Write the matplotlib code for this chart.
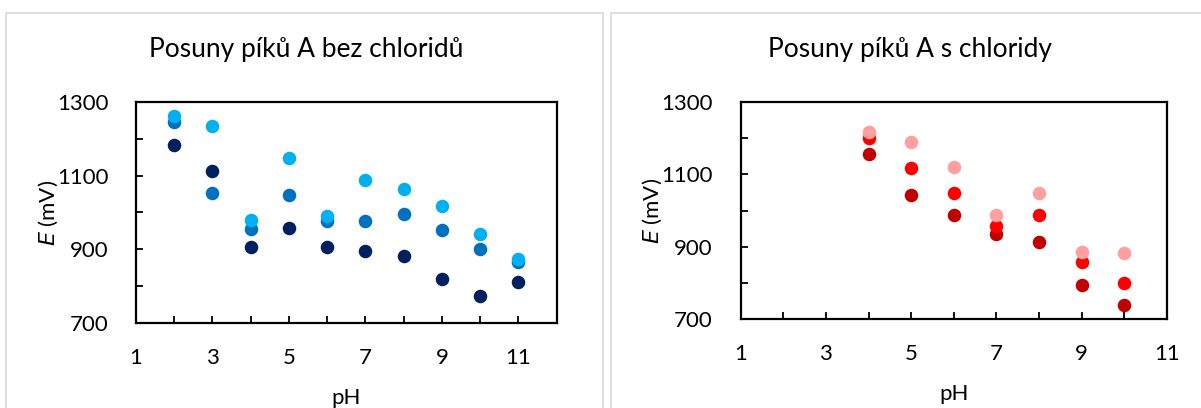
import matplotlib
matplotlib.use("Agg")
import matplotlib.pyplot as plt
from matplotlib.patches import Rectangle

# pH values
ph_left = [2, 3, 4, 5, 6, 7, 8, 9, 10, 11]
ph_right = [4, 5, 6, 7, 8, 9, 10]

# peak A shifts without chlorides (mV)
left_dark = [1184, 1112, 907, 957, 907, 895, 882, 820, 775, 811]
left_mid = [1244, 1053, 955, 1047, 976, 978, 997, 952, 901, 865]
left_light = [1261, 1235, 981, 1148, 990, 1089, 1063, 1018, 943, 873]

# peak A shifts with chlorides (mV)
right_dark = [1155, 1043, 988, 935, 912, 795, 740]
right_mid = [1199, 1118, 1048, 958, 988, 857, 801]
right_light = [1217, 1190, 1119, 988, 1049, 886, 882]

titles = ["Posuny píků A bez chloridů", "Posuny píků A s chloridy"]
blues = ["#002060", "#0070C0", "#00B0F0"]
reds = ["#C00000", "#FF0000", "#FF9F9F"]

plt.rcParams["font.family"] = ["Lato", "DejaVu Sans"]

W, H = 1201, 408
fig = plt.figure(figsize=(W / 100, H / 100), dpi=100)

# chart area frames (Excel style)
for x0, x1 in [(6, 603), (611, 1205)]:
    fig.patches.append(Rectangle((x0 / W, -0.1), (x1 - x0) / W, 1.1 - 13 / H,
                                 transform=fig.transFigure, fill=False,
                                 edgecolor="#D9D9D9", linewidth=1.2))


def make_axes(rect, xmax, series, colors, title, title_x):
    ax = fig.add_axes(rect)
    for (xs, ys), c in zip(series, colors):
        ax.scatter(xs, ys, s=95, color=c, linewidths=0, zorder=3)
    ax.set_xlim(1, xmax)
    ax.set_ylim(700, 1300)
    ax.set_xticks(range(1, xmax + 1, 2))
    ax.set_xticks(range(1, xmax + 1), minor=True)
    ax.set_yticks(range(700, 1301, 200))
    ax.set_yticks(range(700, 1301, 100), minor=True)
    ax.tick_params(which="both", direction="in", length=5, width=1.3,
                   labelsize=16, color="black")
    ax.tick_params(axis="x", pad=18)
    ax.tick_params(axis="y", pad=20)
    for sp in ax.spines.values():
        sp.set_linewidth(1.6)
        sp.set_color("black")
    ax.set_xlabel("pH", fontsize=16, labelpad=14)
    ax.set_ylabel("$\\it{E}$ (mV)", fontsize=16, labelpad=-2)
    fig.text(title_x / W, 1 - 50 / H, title, ha="center", va="center",
             fontsize=19)
    return ax


make_axes([136 / W, 1 - 323.3 / H, 420.7 / W, 221.6 / H], 12,
          [(ph_left, left_dark), (ph_left, left_mid), (ph_left, left_light)],
          blues, titles[0], 306)
make_axes([740.7 / W, 1 - 319.3 / H, 426 / W, 217.6 / H], 11,
          [(ph_right, right_dark), (ph_right, right_mid), (ph_right, right_light)],
          reds, titles[1], 910)

fig.savefig("out.png", dpi=100)
